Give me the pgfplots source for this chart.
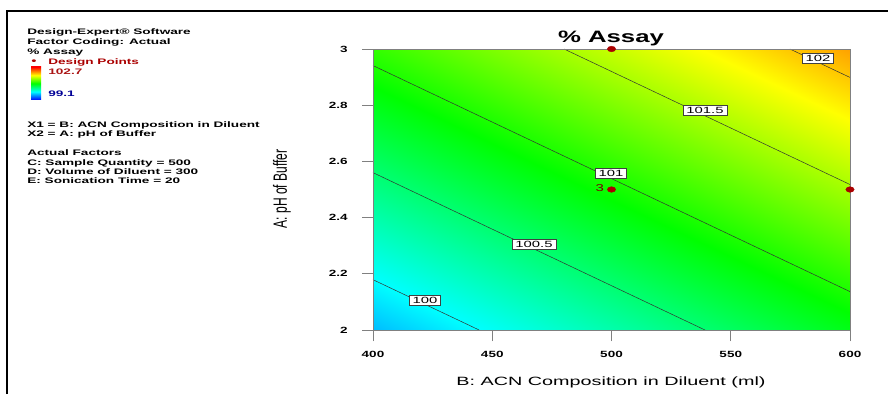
\documentclass[border=0pt]{standalone}
\usepackage{fontspec}
\setmainfont{Liberation Sans}
\usepackage{pgfplots}
\pgfplotsset{compat=1.18}
\usepackage{pgfplotstable}

\definecolor{dpred}{RGB}{170,0,0}
\definecolor{lblred}{RGB}{170,20,20}
\definecolor{lblblue}{RGB}{0,0,150}

\pgfplotsset{colormap={de}{rgb255=(0,0,255) rgb255=(0,255,255) rgb255=(0,255,0) rgb255=(255,255,0) rgb255=(255,0,0)}}

\pgfdeclareverticalshading{debar}{100bp}{rgb(0bp)=(0,0,1); rgb(25bp)=(0,0,1); rgb(37.5bp)=(0,1,1); rgb(50bp)=(0,1,0); rgb(62.5bp)=(1,1,0); rgb(75bp)=(1,0,0); rgb(100bp)=(1,0,0)}

\pgfplotstableread{
x y z
400 2 99.765
450 2 100.029
500 2 100.293
550 2 100.557
600 2 100.821
400 2.25 100.093
450 2.25 100.357
500 2.25 100.621
550 2.25 100.885
600 2.25 101.149
400 2.5 100.421
450 2.5 100.685
500 2.5 100.949
550 2.5 101.213
600 2.5 101.477
400 2.75 100.749
450 2.75 101.013
500 2.75 101.277
550 2.75 101.541
600 2.75 101.805
400 3 101.077
450 3 101.341
500 3 101.605
550 3 101.869
600 3 102.133
}\surfdata

\tikzset{
  ptxt/.style={anchor=base west, inner sep=0pt, font=\fontsize{8}{9}\selectfont\bfseries, xscale=1.7},
  clbl/.style={draw=black!75, line width=0.5pt, fill=white, inner xsep=2pt, inner ysep=1.8pt, font=\fontsize{9}{9}\selectfont, xscale=1.65}
}

\begin{document}
\begin{tikzpicture}
\useasboundingbox (0pt,0pt) rectangle (888pt,394pt);
\begin{scope}[x=1pt,y=1pt]
\draw[line width=2pt] (7,0) -- (7,383) -- (888,383);
\node[ptxt] at (27,359.3) {Design-Expert® Software};
\node[ptxt] at (27,349.3) {Factor Coding: Actual};
\node[ptxt] at (27,339) {\% Assay};
\node[anchor=center, inner sep=0pt, font=\fontsize{10}{10}\selectfont, text=dpred, xscale=1.5] at (34,331.5) {•};
\node[ptxt, text=dpred] at (48,329) {Design Points};
\shade[shading=debar] (31,294) rectangle (41,327);
\node[ptxt, text=lblred] at (48,319) {102.7};
\node[ptxt, text=lblblue] at (48,297) {99.1};
\node[ptxt] at (27,266) {X1 = B: ACN Composition in Diluent};
\node[ptxt] at (27,257) {X2 = A: pH of Buffer};
\node[ptxt] at (27,238) {Actual Factors};
\node[ptxt] at (27,228) {C: Sample Quantity = 500};
\node[ptxt] at (27,219) {D: Volume of Diluent = 300};
\node[ptxt] at (27,210) {E: Sonication Time = 20};
\node[anchor=base, inner sep=0pt, font=\fontsize{16.5}{18}\selectfont\bfseries, xscale=1.56] at (611,351) {\% Assay};
\node[anchor=base, inner sep=0pt, font=\fontsize{12}{14}\selectfont, xscale=1.65] at (611,8.7) {B: ACN Composition in Diluent (ml)};
\node[rotate=90, inner sep=0pt, font=\fontsize{12}{14}\selectfont] at (282,205) {\scalebox{1}[1.6]{A: pH of Buffer}};
\end{scope}
\begin{axis}[
  at={(373pt,64pt)}, anchor=south west,
  scale only axis, width=477pt, height=281pt,
  view={0}{90},
  xmin=400, xmax=600, ymin=2, ymax=3,
  xtick={400,450,500,550,600},
  ytick={2,2.2,2.4,2.6,2.8,3},
  ztick=\empty,
  xtick pos=left, ytick pos=left,
  tick align=outside,
  major tick length=11pt,
  tick style={draw=gray, line width=0.7pt},
  axis line style={draw=gray, line width=0.7pt},
  colormap name=de,
  point meta min=99.1, point meta max=102.7,
  /pgf/number format/assume math mode=true,
  xticklabel style={yshift=-7pt, font=\fontsize{9}{10}\selectfont\bfseries, xscale=1.5},
  yticklabel style={xshift=-9pt, font=\fontsize{9}{10}\selectfont\bfseries, xscale=1.5},
  clip=false,
]
\addplot3[surf, shader=interp, mesh/cols=5] table[x=x, y=y, z=z] {\surfdata};
\addplot3[no marks, draw=black!80, line width=0.5pt] coordinates {(400,2.179,101) (444.5,2,101)};
\addplot3[no marks, draw=black!80, line width=0.5pt] coordinates {(400,2.560,101) (539.2,2,101)};
\addplot3[no marks, draw=black!80, line width=0.5pt] coordinates {(400,2.941,101) (600,2.1366,101)};
\addplot3[no marks, draw=black!80, line width=0.5pt] coordinates {(480.1,3,101) (600,2.5177,101)};
\addplot3[no marks, draw=black!80, line width=0.5pt] coordinates {(574.8,3,101) (600,2.8988,101)};
\node[clbl] at (axis cs:421.8,2.107,101) {100};
\node[clbl] at (axis cs:467.5,2.306,101) {100.5};
\node[clbl] at (axis cs:499.8,2.559,101) {101};
\node[clbl] at (axis cs:539.2,2.783,101) {101.5};
\node[clbl] at (axis cs:586.6,2.968,101) {102};
\addplot3[only marks, mark=*, mark size=2.8pt, color=dpred, mark options={xscale=1.5}] coordinates {(500,3,101) (500,2.5,101) (600,2.5,101)};
\node[anchor=east, inner sep=0pt, font=\fontsize{10}{10}\selectfont, text=dpred!70!black, xscale=1.5] at (axis cs:497,2.505,101) {3};
\end{axis}
\end{tikzpicture}
\end{document}
